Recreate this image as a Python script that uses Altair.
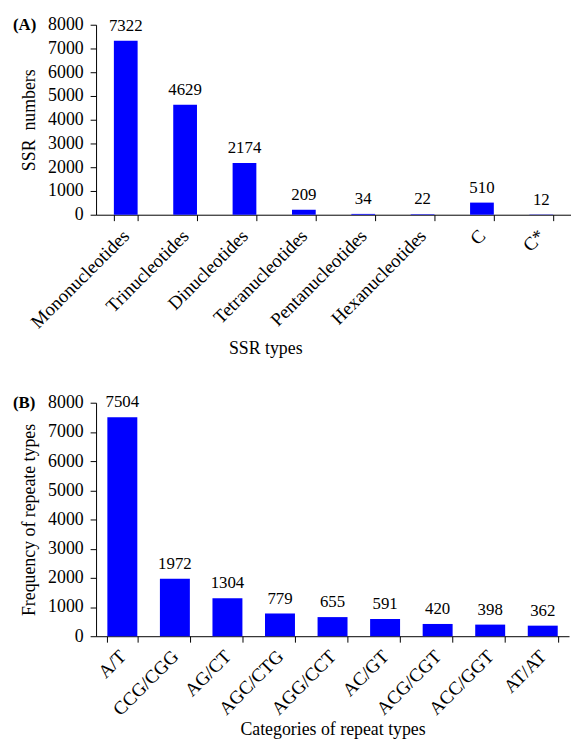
import altair as alt
import pandas as pd

FONT = "Liberation Serif"

ssr_types = ["Mononucleotides", "Trinucleotides", "Dinucleotides", "Tetranucleotides",
             "Pentanucleotides", "Hexanucleotides", "C", "C*"]
ssr_counts = [7322, 4629, 2174, 209, 34, 22, 510, 12]

repeat_types = ["A/T", "CCG/CGG", "AG/CT", "AGC/CTG", "AGG/CCT", "AC/GT",
                "ACG/CGT", "ACC/GGT", "AT/AT"]
repeat_counts = [7504, 1972, 1304, 779, 655, 591, 420, 398, 362]

y_ticks = [0, 1000, 2000, 3000, 4000, 5000, 6000, 7000, 8000]

df_a = pd.DataFrame({"cat": ssr_types, "val": ssr_counts})
df_b = pd.DataFrame({"cat": repeat_types, "val": repeat_counts})

BLUE = "#0000FF"


def panel(df, order, ytitle, xtitle, label, w, h, pad_inner, label_pad, title_pad,
          xtitle_x=None):
    xaxis = dict(
        title=xtitle, labelAngle=-45, labelAlign="right", labelBaseline="middle",
        labelFont=FONT, labelFontSize=19, labelColor="black", labelPadding=label_pad,
        labelOverlap=False,
        titleFont=FONT, titleFontSize=18, titleFontWeight="normal", titleColor="black",
        tickBand="extent", tickColor="black", tickSize=6, domainColor="black",
        titlePadding=title_pad,
    )
    if xtitle_x is not None:
        xaxis["titleX"] = xtitle_x
    x = alt.X("cat:N", sort=order,
              scale=alt.Scale(paddingInner=pad_inner, paddingOuter=pad_inner / 2),
              axis=alt.Axis(**xaxis))
    y = alt.Y("val:Q", scale=alt.Scale(domain=[0, 8000], nice=False),
              axis=alt.Axis(title=ytitle, values=y_ticks, grid=False, format="d",
                            labelOverlap=False,
                            labelFont=FONT, labelFontSize=18, labelColor="black",
                            titleFont=FONT, titleFontSize=18, titleFontWeight="normal",
                            titleColor="black", tickColor="black", tickSize=6,
                            domainColor="black", titlePadding=9, labelPadding=7))
    base = alt.Chart(df)
    bars = base.mark_bar(color=BLUE).encode(x=x, y=y)
    text = base.mark_text(font=FONT, fontSize=17, color="black", baseline="alphabetic",
                          dy=-10).encode(x=x, y=y, text="val:Q")
    tag = alt.Chart(pd.DataFrame({"t": [label]})).mark_text(
        font=FONT, fontSize=17, fontWeight="bold", color="black", align="left",
        baseline="middle").encode(x=alt.value(-84), y=alt.value(0), text="t:N")
    return alt.layer(bars, text, tag).properties(width=w, height=h)


a = panel(df_a, ssr_types, "SSR\u00a0 numbers", "SSR types", "(A)", 480, 192, 0.6,
          12, 8, xtitle_x=171)
b = panel(df_b, repeat_types, "Frequency of repeate types", "Categories of repeat types",
          "(B)", 478, 236, 0.43, 11, 2)

chart = alt.vconcat(a, b, spacing=35).configure_view(stroke=None).properties(
    padding={"left": 5, "top": 4, "right": 0, "bottom": 0})

chart.save("out.html", embed_options={"renderer": "svg", "actions": False})
